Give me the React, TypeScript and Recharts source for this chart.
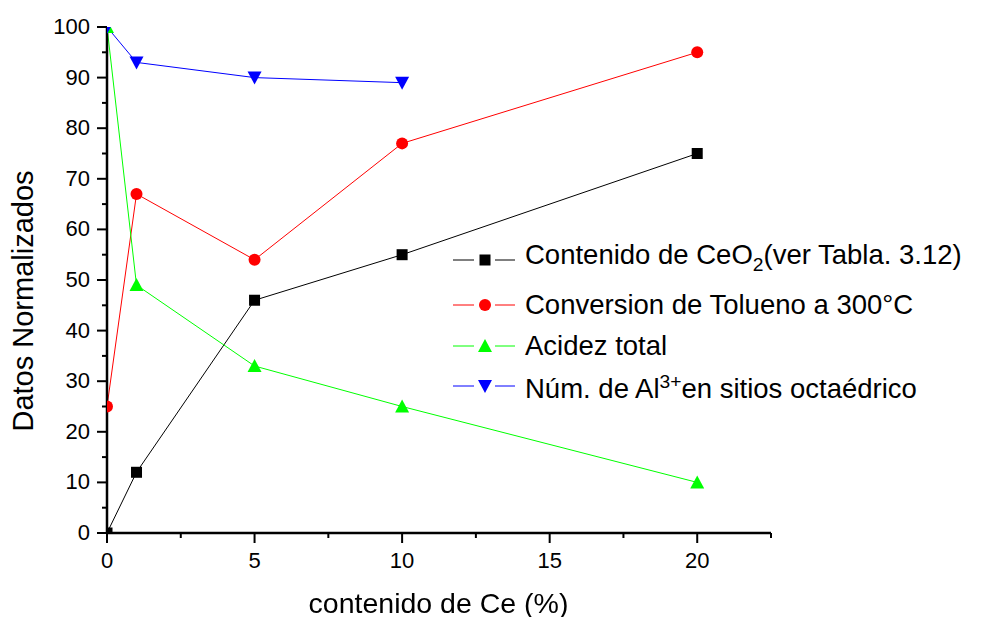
import { Line, LineChart, XAxis, YAxis } from "recharts";

const FONT = "'Liberation Sans', Arial, sans-serif";

// contenido de Ce (%)
const ceContent = [0, 1, 5, 10, 20];
const ceo2Content = [0, 12, 46, 55, 75];
const tolueneConversion = [25, 67, 54, 77, 95];
const totalAcidity = [100, 49, 33, 25, 10];
const alOctahedral = [100, 93, 90, 89, null];

const xTicks = [0, 2.5, 5, 7.5, 10, 12.5, 15, 17.5, 20, 22.5];
const xLabels = [0, 5, 10, 15, 20];
const yTicks = [0, 5, 10, 15, 20, 25, 30, 35, 40, 45, 50, 55, 60, 65, 70, 75, 80, 85, 90, 95, 100];
const yLabels = [0, 10, 20, 30, 40, 50, 60, 70, 80, 90, 100];

const data = ceContent.map((x, i) => ({
	x,
	ceo2: ceo2Content[i],
	conv: tolueneConversion[i],
	acid: totalAcidity[i],
	al: alOctahedral[i],
}));

type Shape = "square" | "circle" | "up" | "down";

function Marker({ shape, cx, cy, color }: { shape: Shape; cx: number; cy: number; color: string }) {
	if (shape === "square")
		return <rect x={cx - 5.5} y={cy - 5.5} width={11} height={11} fill={color} />;
	if (shape === "circle") return <circle cx={cx} cy={cy} r={6} fill={color} />;
	if (shape === "up")
		return <polygon points={`${cx - 7},${cy + 6} ${cx + 7},${cy + 6} ${cx},${cy - 7}`} fill={color} />;
	return <polygon points={`${cx - 7},${cy - 6} ${cx + 7},${cy - 6} ${cx},${cy + 7}`} fill={color} />;
}

const dotFor = (shape: Shape, color: string) => (props: any) => {
	const { cx, cy, index, value } = props;
	if (value == null || cx == null || cy == null) return <g key={index} />;
	return (
		<g key={index}>
			<Marker shape={shape} cx={cx} cy={cy} color={color} />
		</g>
	);
};

const XTick = (props: any) => {
	const { x, y, payload } = props;
	const major = xLabels.includes(payload.value);
	return (
		<g>
			<line x1={x} y1={y} x2={x} y2={y + (major ? 10 : 5)} stroke="#000" strokeWidth={2} />
			{major && (
				<text x={x} y={y + 35} textAnchor="middle" fontSize={22} fontFamily={FONT} fill="#000">
					{payload.value}
				</text>
			)}
		</g>
	);
};

const YTick = (props: any) => {
	const { x, y, payload } = props;
	const major = yLabels.includes(payload.value);
	return (
		<g>
			<line x1={x} y1={y} x2={x - (major ? 10 : 5)} y2={y} stroke="#000" strokeWidth={2} />
			{major && (
				<text x={x - 17} y={y + 7} textAnchor="end" fontSize={22} fontFamily={FONT} fill="#000">
					{payload.value}
				</text>
			)}
		</g>
	);
};

const legendItems: { shape: Shape; color: string; label: React.ReactNode }[] = [
	{
		shape: "square",
		color: "#000000",
		label: (
			<>
				Contenido de CeO<sub style={{ fontSize: "0.7em" }}>2</sub>(ver Tabla. 3.12)
			</>
		),
	},
	{ shape: "circle", color: "#ff0000", label: "Conversion de Tolueno a 300°C" },
	{ shape: "up", color: "#00ff00", label: "Acidez total" },
	{
		shape: "down",
		color: "#0000ff",
		label: (
			<>
				Núm. de Al<sup style={{ fontSize: "0.7em" }}>3+</sup>en sitios octaédrico
			</>
		),
	},
];
const legendRows = [260, 305, 346, 386];

export default function App() {
	return (
		<div style={{ position: "fixed", left: 0, top: 0, width: 996, height: 617, background: "#fff" }}>
			<LineChart
				width={996}
				height={617}
				data={data}
				margin={{ top: 27, right: 225, bottom: 24, left: 47 }}
			>
				<XAxis
					type="number"
					dataKey="x"
					domain={[0, 22.5]}
					ticks={xTicks}
					interval={0}
					allowDataOverflow
					height={60}
					tickSize={0}
					tickMargin={0}
					tickLine={false}
					axisLine={{ stroke: "#000", strokeWidth: 2.5 }}
					tick={<XTick />}
				/>
				<YAxis
					type="number"
					domain={[0, 100]}
					ticks={yTicks}
					interval={0}
					allowDataOverflow
					width={60}
					tickSize={0}
					tickMargin={0}
					tickLine={false}
					axisLine={{ stroke: "#000", strokeWidth: 2.5 }}
					tick={<YTick />}
				/>
				<Line
					dataKey="ceo2"
					stroke="#000000"
					strokeWidth={1}
					dot={dotFor("square", "#000000")}
					isAnimationActive={false}
				/>
				<Line
					dataKey="conv"
					stroke="#ff0000"
					strokeWidth={1}
					dot={dotFor("circle", "#ff0000")}
					isAnimationActive={false}
				/>
				<Line
					dataKey="acid"
					stroke="#00ff00"
					strokeWidth={1}
					dot={dotFor("up", "#00ff00")}
					isAnimationActive={false}
				/>
				<Line
					dataKey="al"
					stroke="#0000ff"
					strokeWidth={1}
					dot={dotFor("down", "#0000ff")}
					isAnimationActive={false}
				/>
			</LineChart>

			{/* legend */}
			{legendItems.map((item, i) => (
				<div
					key={i}
					style={{
						position: "absolute",
						left: 453,
						top: legendRows[i] - 16,
						height: 32,
						display: "flex",
						alignItems: "center",
						fontFamily: FONT,
						fontSize: 27.5,
						whiteSpace: "nowrap",
					}}
				>
					<svg width={72} height={32} style={{ flex: "none" }}>
						<line x1={0} y1={16} x2={21} y2={16} stroke={item.color} strokeWidth={1} />
						<line x1={42} y1={16} x2={62} y2={16} stroke={item.color} strokeWidth={1} />
						<Marker shape={item.shape} cx={32} cy={16} color={item.color} />
					</svg>
					<span style={{ lineHeight: "32px" }}>{item.label}</span>
				</div>
			))}

			<div
				style={{
					position: "absolute",
					left: 22.5,
					top: 301,
					transform: "translate(-50%, -50%) rotate(-90deg)",
					fontFamily: FONT,
					fontSize: 29,
					lineHeight: 1,
					whiteSpace: "nowrap",
				}}
			>
				Datos Normalizados
			</div>
			<div
				style={{
					position: "absolute",
					left: 438.5,
					top: 602.5,
					transform: "translate(-50%, -50%)",
					fontFamily: FONT,
					fontSize: 28.5,
					lineHeight: 1,
					whiteSpace: "nowrap",
				}}
			>
				contenido de Ce (%)
			</div>
		</div>
	);
}
